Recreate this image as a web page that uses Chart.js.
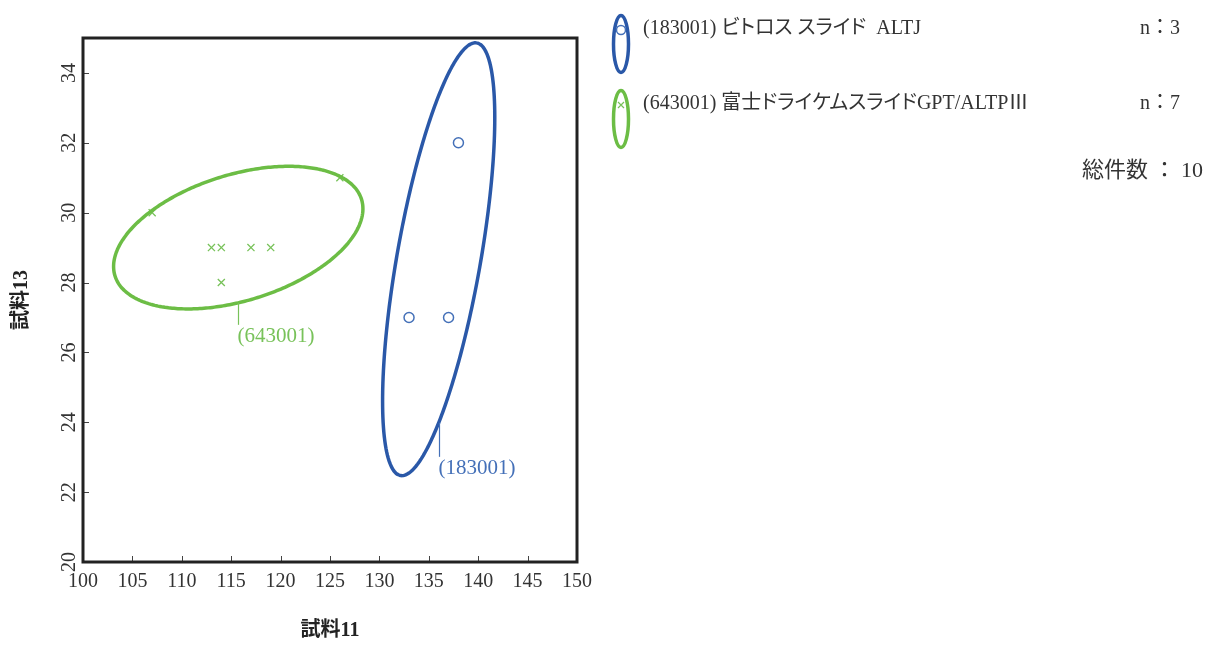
<!DOCTYPE html>
<html>
<head>
<meta charset="utf-8">
<script src="https://cdn.jsdelivr.net/npm/chart.js@4.4.0/dist/chart.umd.min.js"></script>
<style>
  body { margin: 0; background: #fff; }
  #wrap { position: relative; width: 1208px; height: 653px; overflow: hidden; }
  #chart { position: absolute; left: 0; top: 0; }
  .leg { position: absolute; font-family: "Liberation Serif", "Noto Sans CJK JP", serif; font-size: 20px;
         line-height: 24px; color: #333; white-space: pre; }
  .prop { font-feature-settings: "palt"; }
  .icon { position: absolute; }
</style>
</head>
<body>
<div id="wrap">
  <canvas id="chart" width="1208" height="653"></canvas>
  <div id="legend"></div>
</div>
<script>
// Sample groups (試料11 vs 試料13)
const groupCodes = ['183001', '643001'];
const groupNames = ['ビトロス スライド  ALTJ', '富士ドライケムスライドGPT/ALTPⅢ'];

const vitrosX = [133, 137, 138];
const vitrosY = [27, 27, 32];

const fujiX = [107, 113, 114, 117, 119, 114, 126];
const fujiY = [30, 29, 29, 29, 29, 28, 31];

const xTicks = [100, 105, 110, 115, 120, 125, 130, 135, 140, 145, 150];
const yTicks = [20, 22, 24, 26, 28, 30, 32, 34];

// 90% probability ellipse radius for 2 dof
const ellipseK = Math.sqrt(-2 * Math.log(0.1));

const serif = '"Liberation Serif", "Noto Sans CJK JP", serif';

const groups = [
  { code: groupCodes[0], name: groupNames[0], xs: vitrosX, ys: vitrosY,
    line: '#2a58a8', mark: '#4470b8', style: 'circle', radius: 5, calloutLen: 34 },
  { code: groupCodes[1], name: groupNames[1], xs: fujiX, ys: fujiY,
    line: '#6cbd45', mark: '#78c25a', style: 'crossRot', radius: 5, calloutLen: 22 }
];

// covariance ellipse around the group mean
function covEllipse(xs, ys, k, steps) {
  const n = xs.length;
  const mx = xs.reduce((s, v) => s + v, 0) / n;
  const my = ys.reduce((s, v) => s + v, 0) / n;
  let sxx = 0, syy = 0, sxy = 0;
  for (let i = 0; i < n; i++) {
    sxx += (xs[i] - mx) ** 2;
    syy += (ys[i] - my) ** 2;
    sxy += (xs[i] - mx) * (ys[i] - my);
  }
  sxx /= n - 1; syy /= n - 1; sxy /= n - 1;
  const a = Math.sqrt(sxx);
  const b = sxy / a;
  const c = Math.sqrt(syy - b * b);
  const pts = [];
  for (let i = 0; i <= steps; i++) {
    const t = 2 * Math.PI * i / steps;
    pts.push({ x: mx + k * a * Math.cos(t), y: my + k * (b * Math.cos(t) + c * Math.sin(t)) });
  }
  return { pts, mx, lowY: my - k * c };
}

groups.forEach(g => { g.ell = covEllipse(g.xs, g.ys, ellipseK, 180); });

const datasets = [];
groups.forEach(g => {
  // small tension keeps Chart.js off its fast path, which breaks near-vertical runs
  datasets.push({
    data: g.ell.pts, showLine: true, borderColor: g.line, borderWidth: 3.5,
    pointRadius: 0, fill: false, tension: 0.1, borderJoinStyle: 'round'
  });
});
groups.forEach(g => {
  datasets.push({
    data: g.xs.map((x, i) => ({ x, y: g.ys[i] })),
    pointStyle: g.style, pointRadius: g.radius, pointBorderWidth: g.style === 'circle' ? 1.5 : 1.3,
    pointBorderColor: g.mark, pointBackgroundColor: 'rgba(0,0,0,0)', showLine: false
  });
});

// inner tick marks, callouts and the heavy frame
const framePlugin = {
  id: 'framePlugin',
  afterDatasetsDraw(chart) {
    const { ctx, chartArea: a, scales: { x, y } } = chart;
    ctx.save();
    ctx.strokeStyle = '#444';
    ctx.lineWidth = 1;
    ctx.beginPath();
    x.ticks.forEach(t => {
      const px = Math.round(x.getPixelForValue(t.value)) + 0.5;
      ctx.moveTo(px, a.bottom); ctx.lineTo(px, a.bottom - 6);
    });
    y.ticks.forEach(t => {
      const py = Math.round(y.getPixelForValue(t.value)) + 0.5;
      ctx.moveTo(a.left, py); ctx.lineTo(a.left + 6, py);
    });
    ctx.stroke();

    ctx.font = '21px ' + serif;
    ctx.textBaseline = 'middle';
    ctx.textAlign = 'left';
    groups.forEach(g => {
      const px = Math.round(x.getPixelForValue(g.ell.mx)) + 0.5;
      const py = y.getPixelForValue(g.ell.lowY);
      ctx.strokeStyle = g.mark;
      ctx.lineWidth = 1.2;
      ctx.beginPath();
      ctx.moveTo(px, py); ctx.lineTo(px, py + g.calloutLen);
      ctx.stroke();
      ctx.fillStyle = g.mark;
      ctx.fillText('(' + g.code + ')', px - 1, py + g.calloutLen + 12);
    });

    ctx.strokeStyle = '#222';
    ctx.lineWidth = 3;
    ctx.strokeRect(a.left, a.top, a.right - a.left, a.bottom - a.top);
    ctx.restore();
  }
};

new Chart(document.getElementById('chart'), {
  type: 'scatter',
  data: { datasets },
  options: {
    responsive: false,
    animation: false,
    devicePixelRatio: 1,
    layout: { padding: { left: 0, top: 38, right: 631, bottom: 0 } },
    plugins: { legend: { display: false }, tooltip: { enabled: false } },
    scales: {
      x: {
        type: 'linear', min: xTicks[0], max: xTicks[xTicks.length - 1],
        afterBuildTicks: s => { s.ticks = xTicks.map(v => ({ value: v })); },
        afterFit: s => { s.height = 91; },
        grid: { display: false, drawTicks: false },
        border: { display: false },
        ticks: { autoSkip: false, maxRotation: 0, padding: 8, color: '#333', font: { family: serif, size: 20 } },
        title: { display: true, text: '試料11', color: '#222', padding: { top: 0, bottom: 10 },
                 font: { family: serif, size: 20, weight: 'bold' } }
      },
      y: {
        type: 'linear', min: 20, max: 35,
        afterBuildTicks: s => { s.ticks = yTicks.map(v => ({ value: v })); },
        afterFit: s => { s.width = 83; },
        grid: { display: false, drawTicks: false },
        border: { display: false },
        ticks: { autoSkip: false, minRotation: 90, maxRotation: 90, crossAlign: 'center', padding: 3,
                 color: '#333', font: { family: serif, size: 20 } },
        title: { display: true, text: '試料13', color: '#222', padding: { top: 10, bottom: 0 },
                 font: { family: serif, size: 20, weight: 'bold' } }
      }
    }
  },
  plugins: [framePlugin]
});

// legend on the right
const legend = document.getElementById('legend');
let total = 0;
groups.forEach((g, i) => {
  const top = 13 + i * 75;
  total += g.xs.length;
  const marker = g.style === 'circle'
    ? `<circle cx="10" cy="17" r="4.5" fill="none" stroke="${g.mark}" stroke-width="1.5"/>`
    : `<path d="M7 14 L13 20 M13 14 L7 20" stroke="${g.mark}" stroke-width="1.2"/>`;
  legend.insertAdjacentHTML('beforeend',
    `<svg class="icon" style="left:611px;top:${top}px" width="20" height="62">
       <ellipse cx="10" cy="31" rx="7.5" ry="28.5" fill="none" stroke="${g.line}" stroke-width="3.5"/>${marker}
     </svg>
     <div class="leg prop" style="left:643px;top:${top + 2}px">(${g.code}) ${g.name}</div>
     <div class="leg" style="left:1140px;top:${top + 2}px">n：${g.xs.length}</div>`);
});
legend.insertAdjacentHTML('beforeend',
  `<div class="leg" style="left:1082px;top:158px;font-size:22px">総件数 ： ${total}</div>`);
</script>
</body>
</html>
